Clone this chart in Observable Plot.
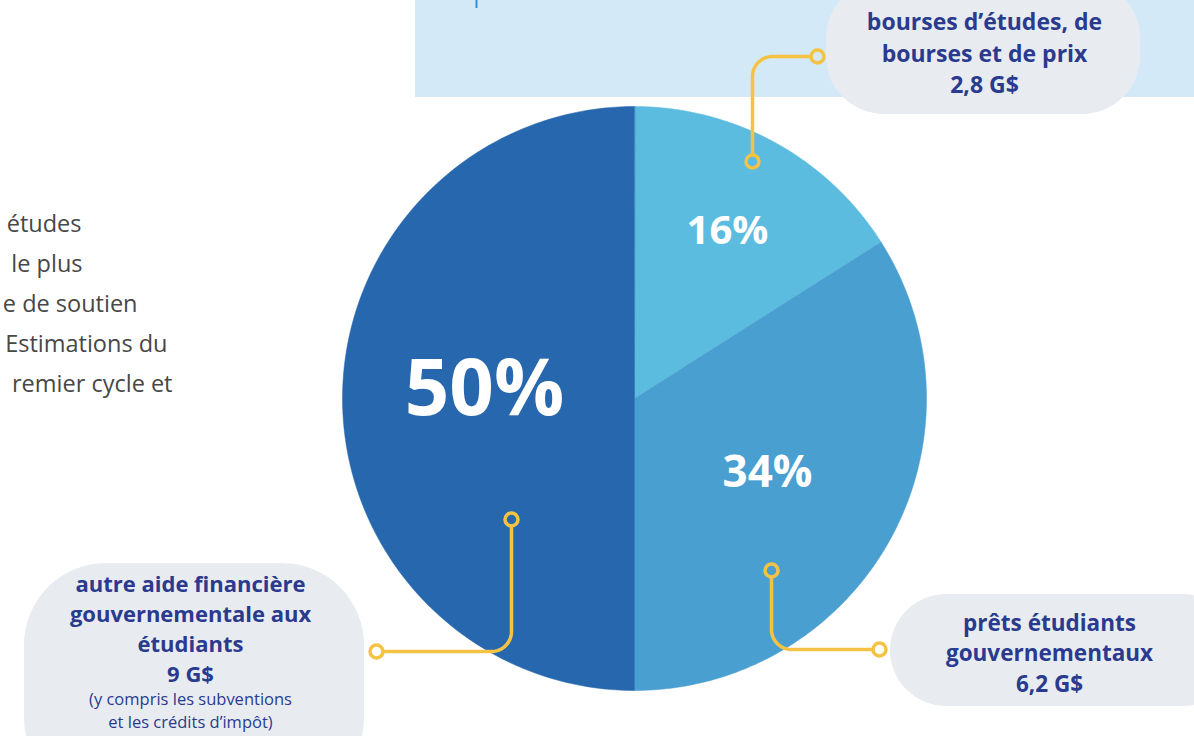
<!DOCTYPE html>
<html>
<head>
<meta charset="utf-8">
<script src="https://cdn.jsdelivr.net/npm/d3@7"></script>
<script src="https://cdn.jsdelivr.net/npm/@observablehq/plot@0.6"></script>
<style>
  html, body { margin: 0; padding: 0; background: #ffffff; overflow: hidden; }
  #chart svg { display: block; }
</style>
</head>
<body>
<div id="chart"></div>
<script>
// ---------- data ----------
const categories = [
  "bourses d’études, de bourses et de prix",
  "prêts étudiants gouvernementaux",
  "autre aide financière gouvernementale aux étudiants"
];
const shares = [16, 34, 50];
const amounts = ["2,8 G$", "6,2 G$", "9 G$"];
const pctLabels = ["16%", "34%", "50%"];
const categoryLines = [
  ["bourses d’études, de", "bourses et de prix"],
  ["prêts étudiants", "gouvernementaux"],
  ["autre aide financière", "gouvernementale aux", "étudiants"]
];
const noteLines = ["(y compris les subventions", "et les crédits d’impôt)"];
const leftLines = ["études", "le plus", "e de soutien", "Estimations du", "remier cycle et"];
const sliceColors = ["#5CBCE0", "#4A9FD1", "#2767AD"];

// ---------- layout ----------
const W = 1194, H = 736;
const CX = 634, CY = 398, R = 292;
const NAVY = "#2A3A8E", YELLOW = "#F5C343", PILL = "#E8ECF0";
const FONT = "Open Sans, Lato, sans-serif";

const arcs = d3.pie().sort(null).value(d => d)(shares);
const piePts = [];
arcs.forEach((a, i) => {
  piePts.push({cat: categories[i], x: CX, y: CY});
  const N = 120;
  for (let k = 0; k <= N; k++) {
    const t = a.startAngle + (a.endAngle - a.startAngle) * k / N;
    piePts.push({cat: categories[i], x: CX + R * Math.sin(t), y: CY - R * Math.cos(t)});
  }
});

// connectors: start (in slice) -> rounded corner -> end (at pill)
const connectorDefs = [
  {i: 0, a: [752, 161], b: [817, 56]},
  {i: 1, a: [771, 570], b: [879, 649]},
  {i: 2, a: [511, 519], b: [376, 651]}
];
const dotR = 6.5, cr = 20;
const connPts = [];
const dots = [];
connectorDefs.forEach(c => {
  const [ax, ay] = c.a, [bx, by] = c.b;
  const sy = Math.sign(by - ay), sx = Math.sign(bx - ax);
  const pts = [[ax, ay + sy * dotR]];
  const ccx = ax + sx * cr, ccy = by - sy * cr;
  const M = 16;
  for (let k = 0; k <= M; k++) {
    const th = (Math.PI / 2) * k / M;
    pts.push([ccx - sx * cr * Math.cos(th), ccy + sy * cr * Math.sin(th)]);
  }
  pts.push([bx - sx * dotR, by]);
  pts.forEach(p => connPts.push({id: c.i, x: p[0], y: p[1]}));
  dots.push({x: ax, y: ay}, {x: bx, y: by});
});

const pillTop = [{x1: 826, x2: 1140, y1: -20, y2: 114}];
const pillRight = [{x1: 890, x2: 1240, y1: 594, y2: 706}];
const pillLeft = [{x1: 24, x2: 364, y1: 563, y2: 800}];

const pillText = [
  {x: 984, y: 51, lh: 1.37, size: 23, text: [...categoryLines[0], amounts[0]].join("\n")},
  {x: 1049, y: 651, lh: 1.37, size: 22.5, text: [...categoryLines[1], amounts[1]].join("\n")},
  {x: 190, y: 627, lh: 1.37, size: 22, text: [...categoryLines[2], amounts[2]].join("\n")}
];

const pctPos = [
  {x: 727, y: 230.5, size: 40},
  {x: 767, y: 472.5, size: 44},
  {x: 484, y: 390, size: 78}
];

const leftEnds = [81, 82, 137, 167, 172];
const leftY = [224, 264, 304, 344, 384];

const textMark = (k) => Plot.text([pillText[k]], {
  x: "x", y: "y", text: "text", fill: NAVY, fontWeight: 700, fontFamily: FONT,
  fontSize: pillText[k].size, lineAnchor: "middle", lineHeight: pillText[k].lh
});

const chart = Plot.plot({
  width: W, height: H,
  margin: 0,
  x: {domain: [0, W], range: [0, W], axis: null},
  y: {domain: [0, H], range: [0, H], axis: null},
  color: {domain: categories, range: sliceColors},
  style: {background: "transparent", overflow: "hidden"},
  marks: [
    // top band
    Plot.rect([0], {x1: 415, x2: W, y1: -5, y2: 97, fill: "#D4E9F7"}),
    Plot.ruleX([476], {y1: 0, y2: 8, stroke: "#2C8FD6", strokeWidth: 2}),
    // label pills
    Plot.rect(pillTop, {x1: "x1", x2: "x2", y1: "y1", y2: "y2", rx: 58, fill: PILL}),
    Plot.rect(pillRight, {x1: "x1", x2: "x2", y1: "y1", y2: "y2", rx: 56, fill: PILL}),
    Plot.rect(pillLeft, {x1: "x1", x2: "x2", y1: "y1", y2: "y2", rx: 82, fill: PILL}),
    // pie
    Plot.line(piePts, {x: "x", y: "y", z: "cat", fill: "cat", stroke: "cat", strokeWidth: 0.5, curve: "linear-closed"}),
    // connectors
    Plot.line(connPts, {x: "x", y: "y", z: "id", stroke: YELLOW, strokeWidth: 3.5, strokeLinecap: "round"}),
    Plot.dot(dots, {x: "x", y: "y", r: dotR, stroke: YELLOW, strokeWidth: 3.5, fill: "none"}),
    // percent labels
    Plot.text(pctPos, {x: "x", y: "y", text: (d, i) => pctLabels[i], fill: "white", fontWeight: 700,
      fontFamily: FONT, fontSize: d => d.size}),
    // pill texts
    textMark(0), textMark(1), textMark(2),
    Plot.text(noteLines, {x: 190, y: (d, i) => 699 + i * 23.5, text: d => d, fill: NAVY, fontFamily: FONT,
      fontSize: 16.5, fontWeight: 500}),
    // cut-off left paragraph
    Plot.text(leftLines, {x: (d, i) => leftEnds[i], y: (d, i) => leftY[i], text: d => d, textAnchor: "end",
      fill: "#474747", fontFamily: FONT, fontSize: 23.5, fontWeight: 500})
  ]
});
document.getElementById("chart").appendChild(chart);
</script>
</body>
</html>
